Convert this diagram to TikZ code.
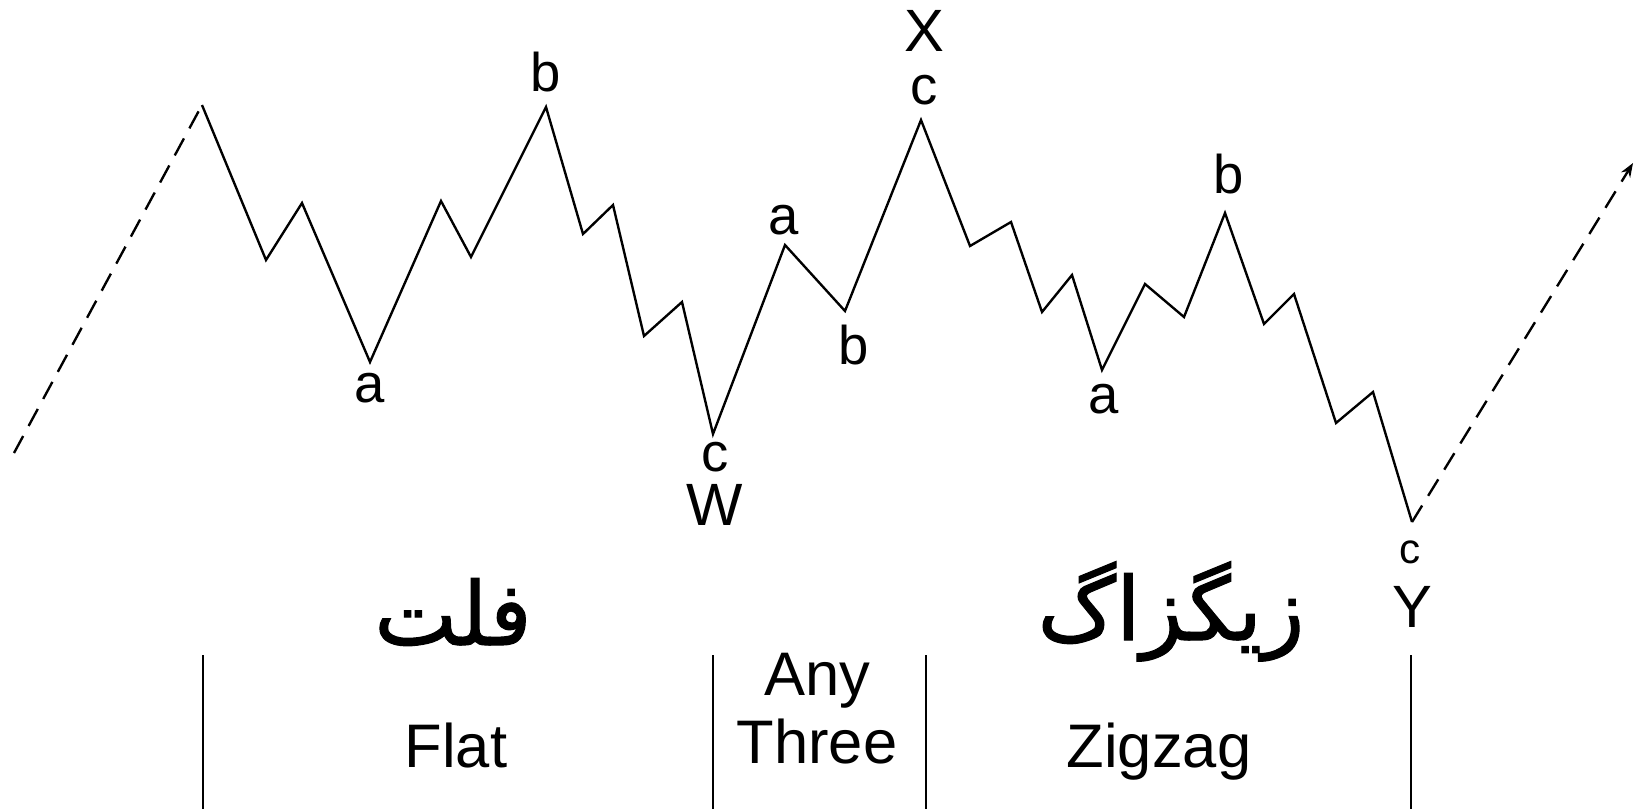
\documentclass[tikz,border=0pt]{standalone}
\usepackage{fontspec}
\setmainfont{Liberation Sans}
\newfontfamily\farsifont[Script=Arabic,FakeBold=1.2]{DejaVu Sans}
\TeXXeTstate=1
\usetikzlibrary{arrows.meta}

\begin{document}
\begin{tikzpicture}[x=0.02cm,y=-0.02cm,
  wave/.style={line width=1.35pt},
  lead/.style={line width=1.35pt,dash pattern=on 11pt off 6.5pt},
  sep/.style={line width=1.35pt},
  lbl/.style={anchor=base,inner sep=0pt,font=\fontsize{31}{31}\selectfont},
  biglbl/.style={anchor=base,inner sep=0pt,font=\fontsize{34}{34}\selectfont},
  kind/.style={anchor=base,inner sep=0pt,font=\fontsize{35}{35}\selectfont},
  fa/.style={anchor=base,inner sep=0pt,font=\fontsize{50}{50}\farsifont}]
\useasboundingbox (0,0) rectangle (1642,809);
\foreach \n/\x/\y in {0/14/453,1/202/105,2/266/260,3/302/203,4/370/362,5/441/201,
  6/471/257,7/546/107,8/583/234,9/613/205,10/644/336,11/682/302,12/713/434,
  13/785/245,14/845/311,15/921/120,16/970/246,17/1011/222,18/1042/312,
  19/1072/275,20/1102/370,21/1145/284,22/1184/317,23/1225/213,24/1264/324,
  25/1294/294,26/1336/423,27/1373/392,28/1412/522,29/1633/163}
  {\coordinate (p\n) at (\x,\y);}
\draw[lead] (p0) -- (p1);
\draw[wave] (p1) -- (p2) -- (p3) -- (p4) -- (p5) -- (p6) -- (p7) -- (p8) -- (p9)
  -- (p10) -- (p11) -- (p12) -- (p13) -- (p14) -- (p15) -- (p16) -- (p17) -- (p18)
  -- (p19) -- (p20) -- (p21) -- (p22) -- (p23) -- (p24) -- (p25) -- (p26) -- (p27) -- (p28);
\draw[lead,-{Stealth[length=8pt,width=6pt]}] (p28) -- (p29);

\node[lbl] (a1) at (370,402) {a};
\node[lbl] (b1) at (546,91) {b};
\node[lbl] (c1) at (715,471) {c};
\node[biglbl] (w) at (715,525) {W};
\node[lbl] (a2) at (784,234) {a};
\node[lbl] (b2) at (854,364) {b};
\node[lbl] (c2) at (924,104) {c};
\node[biglbl] (x) at (924,51) {X};
\node[lbl] (a3) at (1104,413) {a};
\node[lbl] (b3) at (1229,193) {b};
\node[lbl,font=\fontsize{24}{24}\selectfont] (c3) at (1410,563) {c};
\node[biglbl] (y) at (1412,627) {Y};

\foreach \x in {203,713,926,1411} {\draw[sep] (\x,655) -- (\x,809);}

\node[fa] (flatfa) at (453,645) {\beginR فلت\endR};
\node[fa] (zigfa) at (1171,640) {\beginR زیگزاگ\endR};
\node[kind] (flat) at (456,767) {Flat};
\node[kind] (any) at (817,695) {Any};
\node[kind] (three) at (817,763) {Three};
\node[kind] (zigzag) at (1159,767) {Zigzag};
\end{tikzpicture}
\end{document}
